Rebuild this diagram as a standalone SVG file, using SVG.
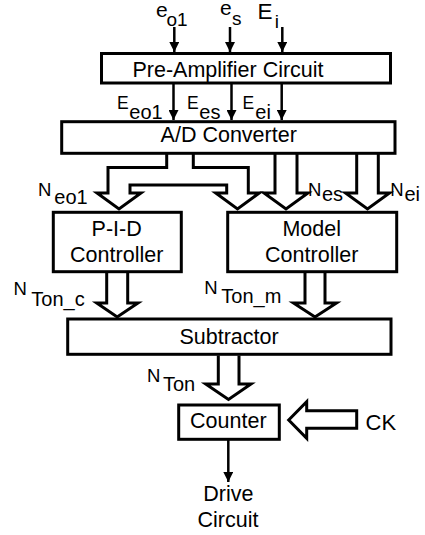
<svg xmlns="http://www.w3.org/2000/svg" width="425" height="535" viewBox="0 0 425 535">
<defs>
<style>
.box{fill:#fff;stroke:#000;stroke-width:3}
.blk{fill:#fff;stroke:#000;stroke-width:3;stroke-linejoin:miter}
.ln{stroke:#000;stroke-width:2.5;fill:none}
text{font-family:"Liberation Sans",Arial,sans-serif;fill:#000}
.t{font-size:21.5px;text-anchor:middle}
.m{font-size:18.5px}
.s{font-size:20px}
</style>
<marker id="ah" viewBox="0 0 10 10" refX="10" refY="5" markerWidth="4" markerHeight="4" markerUnits="strokeWidth" orient="auto">
<path d="M0,0 L10,5 L0,10 Z" fill="#000"/>
</marker>
</defs>
<rect width="425" height="535" fill="#fff"/>
<g id="connectors">
<line class="ln" x1="174.3" y1="27" x2="174.3" y2="52" marker-end="url(#ah)"/>
<line class="ln" x1="230" y1="27" x2="230" y2="52" marker-end="url(#ah)"/>
<line class="ln" x1="282.3" y1="27" x2="282.3" y2="52" marker-end="url(#ah)"/>
<line class="ln" x1="173.5" y1="84" x2="173.5" y2="120" marker-end="url(#ah)"/>
<line class="ln" x1="231.5" y1="84" x2="231.5" y2="120" marker-end="url(#ah)"/>
<line class="ln" x1="281.7" y1="84" x2="281.7" y2="120" marker-end="url(#ah)"/>
<path class="blk" d="M166.7,154 V167.5 H108 V193 H97 L119,209 L141,193 H130 V185 H226.7 V193 H215.7 L237.5,209 L259.3,193 H248.3 V167.5 H193.3 V154"/>
<path class="blk" d="M275,154 V193 H264 L286,209 L308,193 H297 V154"/>
<path class="blk" d="M356.7,154 V193 H345.5 L367.5,209 L389.5,193 H378.3 V154"/>
<path class="blk" d="M106.7,273 V303 H96.7 L117.2,317 L138,303 H127.7 V273"/>
<path class="blk" d="M305,273 V303 H293.5 L315,317 L336.5,303 H325 V273"/>
<path class="blk" d="M218.3,355.5 V384 H205.7 L228.5,399.5 L251,384 H239 V355.5"/>
<path class="blk" d="M288.7,420 L306.7,401.7 V410.7 H356.7 V428.3 H306.7 V438.3 Z"/>
<line class="ln" x1="228.3" y1="440" x2="228.3" y2="482" marker-end="url(#ah)"/>
</g>
<g id="labels">
<text x="156" y="16.5" style="font-size:21px">e</text><text x="166.5" y="25.5" style="font-size:19px">o1</text>
<text x="220" y="15" style="font-size:21px">e</text><text x="232" y="24.5" style="font-size:19px">s</text>
<text x="257.5" y="18.5" style="font-size:22.5px">E</text><text x="274.7" y="27.5" style="font-size:19px">i</text>
<text x="116.9" y="109.3" style="font-size:17.5px">E</text><text x="129.3" y="119.3" class="s">eo1</text>
<text x="187" y="109.3" style="font-size:17.5px">E</text><text x="199.3" y="119.3" class="s">es</text>
<text x="242.6" y="109.3" style="font-size:17.5px">E</text><text x="255.3" y="119.3" class="s">ei</text>
<text x="37.9" y="195.7" class="m">N</text><text x="54.3" y="204" class="s">eo1</text>
<text x="307.9" y="195.5" class="m">N</text><text x="322" y="200.5" class="s">es</text>
<text x="390.3" y="195.5" class="m">N</text><text x="404.5" y="200.5" class="s">ei</text>
<text x="13.6" y="295" class="m">N</text><text x="31.3" y="306" class="s">Ton_c</text>
<text x="204.3" y="294" class="m">N</text><text x="221.3" y="302.7" class="s">Ton_m</text>
<text x="147" y="381.7" class="m">N</text><text x="163" y="391" class="s">Ton</text>
<text x="365.6" y="430" style="font-size:22px">CK</text>
<text x="228.3" y="500.7" class="t">Drive</text>
<text x="228" y="527.3" class="t">Circuit</text>
</g>
<g id="preamp">
<rect class="box" x="101.5" y="53.5" width="289" height="29.5"/>
<text class="t" x="228" y="77">Pre-Amplifier Circuit</text>
</g>
<g id="adc">
<rect class="box" x="61.7" y="121.7" width="333.3" height="31.6"/>
<text class="t" x="228.7" y="142">A/D Converter</text>
</g>
<g id="pid">
<rect class="box" x="53.3" y="212.3" width="128" height="59.4"/>
<text class="t" x="116.7" y="236">P-I-D</text>
<text class="t" x="116.7" y="261.7">Controller</text>
</g>
<g id="model">
<rect class="box" x="227.7" y="212.3" width="169" height="59.4"/>
<text class="t" x="311.7" y="236">Model</text>
<text class="t" x="311.7" y="261.7">Controller</text>
</g>
<g id="subtractor">
<rect class="box" x="67.7" y="319" width="323.3" height="35.3"/>
<text class="t" x="229" y="344.3">Subtractor</text>
</g>
<g id="counter">
<rect class="box" x="178.7" y="405" width="100.6" height="34.3"/>
<text class="t" x="228.3" y="428.3">Counter</text>
</g>
</svg>
